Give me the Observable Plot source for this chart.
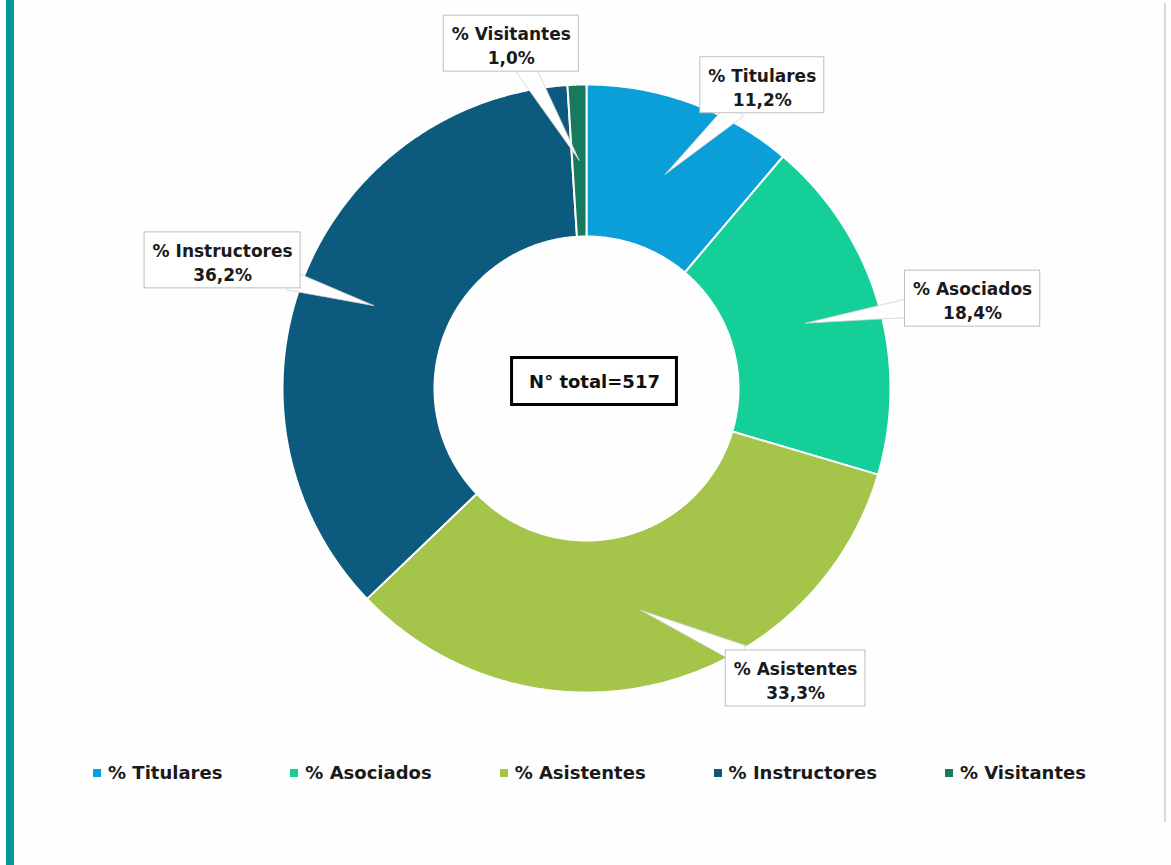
<!DOCTYPE html>
<html>
<head>
<meta charset="utf-8">
<script src="https://cdn.jsdelivr.net/npm/d3@7"></script>
<script src="https://cdn.jsdelivr.net/npm/@observablehq/plot@0.6"></script>
<style>
  html, body { margin: 0; padding: 0; background: #fefefe; }
  #page { position: relative; width: 1171px; height: 865px; overflow: hidden; background: #fefefe;
          font-family: "DejaVu Sans", sans-serif; }
  #stripe { position: absolute; left: 6px; top: 0; width: 8px; height: 865px; background: #009a9a; }
  #rline { position: absolute; left: 1164px; top: 3px; width: 2px; height: 819px; background: #d9d9d9; }
  #chart { position: absolute; left: 0; top: 0; }
  #legend { position: absolute; left: 0; top: 762px; width: 1171px; display: flex; justify-content: center;
            padding-left: 8px; box-sizing: border-box; gap: 68px; font-weight: bold; font-size: 18px; color: #1a1a1a; }
  .item { display: flex; align-items: center; white-space: nowrap; }
  .sw { width: 8px; height: 8px; margin-right: 7px; }
</style>
</head>
<body>
<div id="page">
  <div id="stripe"></div>
  <div id="rline"></div>
  <div id="chart"></div>
  <div id="legend"></div>
</div>
<script>
// ---- data ----
const categories = ["% Titulares", "% Asociados", "% Asistentes", "% Instructores", "% Visitantes"];
const values = [11.2, 18.4, 33.3, 36.2, 1.0];
const valueLabels = ["11,2%", "18,4%", "33,3%", "36,2%", "1,0%"];
const totalLabel = "N° total=517";

// ---- styles / layout ----
const colors = ["#0a9fd9", "#14cf98", "#a5c44a", "#0c5a7e", "#177a5c"];
const cx = 586, cy = 388, R = 304, innerFrac = 0.5;
const W = 1171, H = 740;
// label placement: angle (deg clockwise from top) and distance (in outer radii)
const labelAngle = [30.1, 76.9, 144.2, 289.4, 347.7];
const labelDist = [1.153, 1.304, 1.176, 1.269, 1.161];
const font = "bold 17px 'DejaVu Sans'";

const px = p => p / R; // pixels -> data units

// measure text
const ctx = document.createElement("canvas").getContext("2d");
ctx.font = font;
const tw = s => ctx.measureText(s).width;

// pie angles
const pie = d3.pie().sort(null).value(d => d)(values);

// slice polygons
const slicePts = [];
pie.forEach((p, i) => {
  const a0 = p.startAngle, a1 = p.endAngle;
  const n = Math.max(4, Math.ceil((a1 - a0) / 0.01));
  const pts = [];
  for (let k = 0; k <= n; k++) {
    const a = a0 + (a1 - a0) * k / n;
    pts.push([Math.sin(a), Math.cos(a)]);
  }
  for (let k = n; k >= 0; k--) {
    const a = a0 + (a1 - a0) * k / n;
    pts.push([innerFrac * Math.sin(a), innerFrac * Math.cos(a)]);
  }
  pts.push(pts[0]);
  pts.forEach(([x, y]) => slicePts.push({cat: categories[i], x, y}));
});

// labels, boxes, wedges
const labels = [], boxes = [], wedgePts = [];
pie.forEach((p, i) => {
  const la = labelAngle[i] * Math.PI / 180;
  const lx = labelDist[i] * Math.sin(la), ly = labelDist[i] * Math.cos(la);
  const wpx = Math.max(tw(categories[i]), tw(valueLabels[i])) + 16;
  const hw = px(wpx / 2), hh = px(28);
  boxes.push({x1: lx - hw, x2: lx + hw, y1: ly - hh, y2: ly + hh});
  labels.push({x: lx, y: ly, text: categories[i] + "\n" + valueLabels[i]});
  const mid = (p.startAngle + p.endAngle) / 2;
  const rm = (1 + innerFrac) / 2;
  const ax = rm * Math.sin(mid), ay = rm * Math.cos(mid);
  let dx = ax - lx, dy = ay - ly;
  const len = Math.hypot(dx, dy); dx /= len; dy /= len;
  const t = Math.min(Math.abs(dx) > 1e-9 ? hw / Math.abs(dx) : Infinity, Math.abs(dy) > 1e-9 ? hh / Math.abs(dy) : Infinity) * 0.85;
  const bx = lx + dx * t, by = ly + dy * t;
  const w = px(10);
  const nx = -dy * w, ny = dx * w;
  [[bx + nx, by + ny], [ax, ay], [bx - nx, by - ny], [bx + nx, by + ny]]
    .forEach(([x, y]) => wedgePts.push({cat: categories[i], x, y}));
});

// center box
ctx.font = "bold 18px 'DejaVu Sans'";
const cw = ctx.measureText(totalLabel).width + 34;
const centerBox = [{x1: -px(cw / 2), x2: px(cw / 2), y1: -px(23.5), y2: px(23.5)}];

const chart = Plot.plot({
  width: W, height: H,
  margin: 0,
  x: {domain: [-1, 1], range: [cx - R, cx + R], axis: null},
  y: {domain: [-1, 1], range: [cy + R, cy - R], axis: null},
  color: {domain: categories, range: colors},
  style: {background: "transparent", fontFamily: "'DejaVu Sans', sans-serif"},
  marks: [
    Plot.line(slicePts, {x: "x", y: "y", z: "cat", fill: "cat", stroke: "#ffffff", strokeWidth: 2, strokeLinejoin: "miter", curve: "linear"}),
    Plot.line(wedgePts, {x: "x", y: "y", z: "cat", fill: "#ffffff", stroke: "#d0d0d0", strokeWidth: 0.8, curve: "linear"}),
    Plot.rect(boxes, {x1: "x1", x2: "x2", y1: "y1", y2: "y2", fill: "#ffffff", stroke: "#bfbfbf", strokeWidth: 1}),
    Plot.text(labels, {x: "x", y: "y", text: "text", fontSize: 17, fontWeight: "bold", fill: "#1a1a1a", lineHeight: 1.4, textAnchor: "middle", lineAnchor: "middle", dy: 1}),
    Plot.rect(centerBox, {x1: "x1", x2: "x2", y1: "y1", y2: "y2", fill: "#ffffff", stroke: "#000000", strokeWidth: 3, dx: 8, dy: -7}),
    Plot.text([totalLabel], {x: () => 0, y: () => 0, text: d => d, fontSize: 18, fontWeight: "bold", fill: "#111111", dx: 8, dy: -6})
  ]
});
document.getElementById("chart").appendChild(chart);

// legend
const leg = document.getElementById("legend");
categories.forEach((c, i) => {
  const it = document.createElement("div");
  it.className = "item";
  const sw = document.createElement("div");
  sw.className = "sw"; sw.style.background = colors[i];
  const tx = document.createElement("span");
  tx.textContent = c;
  it.appendChild(sw); it.appendChild(tx);
  leg.appendChild(it);
});
</script>
</body>
</html>
